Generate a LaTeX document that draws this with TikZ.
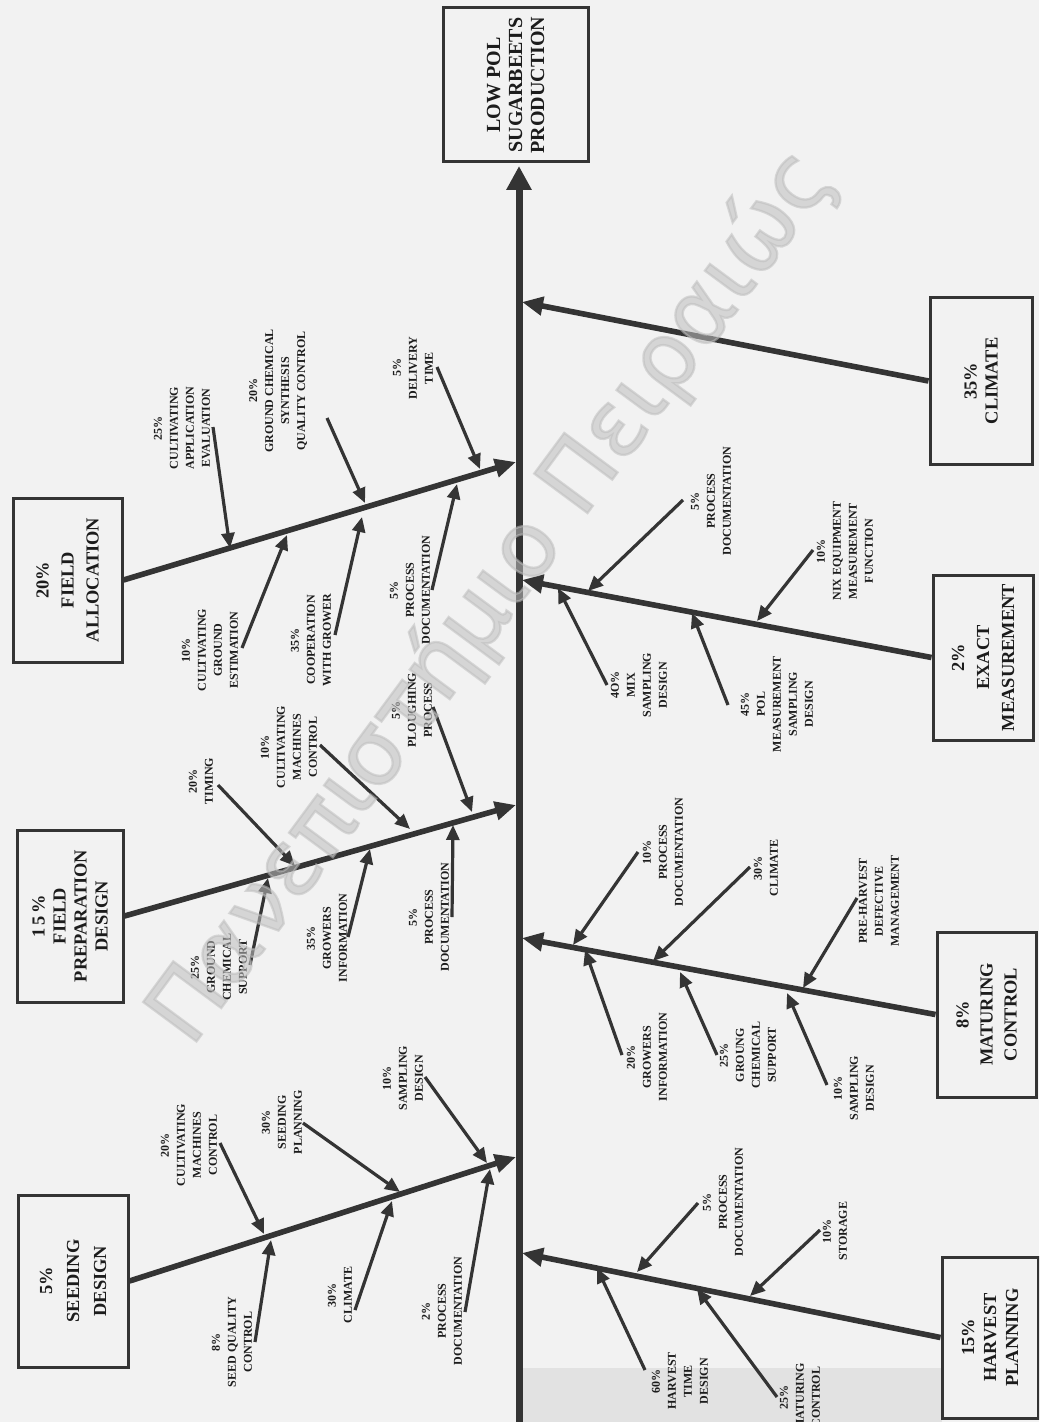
\documentclass[tikz,border=0pt]{standalone}
\usepackage{fontspec}
\setmainfont{Liberation Serif}
\newfontfamily\wmfont[FakeBold=2.5]{DejaVu Sans}
\usetikzlibrary{arrows.meta}
\definecolor{paper}{RGB}{242,242,242}
\definecolor{ink}{RGB}{28,28,28}
\definecolor{wire}{RGB}{52,52,52}
\definecolor{wmark}{RGB}{190,190,190}
\definecolor{scanband}{RGB}{226,226,226}
\newcommand{\boxfont}[2]{\fontsize{#1}{#2}\selectfont\bfseries}

\begin{document}
\begin{tikzpicture}[x=0.5pt,y=-0.5pt,
  lab/.style={rotate=90, align=center, inner sep=0pt, text=ink,
              font=\fontsize{6}{8}\selectfont\bfseries},
  cause/.style={draw=wire, line width=1.5pt, rotate=90, align=center,
                text=ink, inner sep=0pt},
  bone/.style={draw=wire, line width=2.8pt, -{Triangle[length=10.5pt,width=9pt]}},
  rib/.style={draw=wire, line width=1.6pt, -{Triangle[length=7.5pt,width=6.5pt]}},
  spine/.style={draw=wire, line width=3.5pt, -{Triangle[length=12pt,width=12pt]}}
]
\useasboundingbox (0,0) rectangle (1039,1422);
\clip (0,0) rectangle (1039,1422);
\fill[paper] (0,0) rectangle (1039,1422);
\fill[scanband] (522,1368) rectangle (942,1422);

% effect and spine
\node[cause, minimum width=77pt, minimum height=72.5pt, font=\boxfont{10}{11}] (eff) at (515.5,85) {LOW POL\\SUGARBEETS\\PRODUCTION};
\coordinate (spb) at (519,1440);
\coordinate (spt) at (519,166);
\draw[spine] (spb) -- (spt);

% main causes
\node[cause, minimum width=86pt, minimum height=55pt, font=\boxfont{9.2}{13.5}] (sd) at (73,1281) {5\%\\SEEDING\\DESIGN};
\node[cause, minimum width=86pt, minimum height=53pt, font=\boxfont{9.2}{10.5}] (fp) at (70,916) {1\hspace{1.5pt}5\hspace{1.5pt}\%\\FIELD\\PREPARATION\\DESIGN};
\node[cause, minimum width=82pt, minimum height=54.5pt, font=\boxfont{9.2}{12.5}] (fa) at (67.5,580) {20\%\\FIELD\\ALLOCATION};
\node[cause, minimum width=83pt, minimum height=51pt, font=\boxfont{9.2}{10.5}] (cl) at (981,381) {35\%\\CLIMATE};
\node[cause, minimum width=82.5pt, minimum height=50pt, font=\boxfont{9.2}{12.5}] (em) at (983,657.5) {2\%\\EXACT\\MEASUREMENT};
\node[cause, minimum width=82.5pt, minimum height=49.5pt, font=\boxfont{9.2}{12}] (mc) at (986.5,1014.5) {8\%\\MATURING\\CONTROL};
\node[cause, minimum width=80.5pt, minimum height=48pt, font=\boxfont{9.2}{11}] (hp) at (990,1337.5) {15\%\\HARVEST\\PLANNING};

\coordinate (sdt) at (516,1157);
\coordinate (fpt) at (516,805);
\coordinate (fat) at (516,462);
\coordinate (clt) at (522,302);
\coordinate (emt) at (522,580);
\coordinate (mct) at (522,938);
\coordinate (hpt) at (522,1253);
\draw[bone] (sd.south) -- (sdt);
\draw[bone] (fp.south) -- (fpt);
\draw[bone] (fa.south) -- (fat);
\draw[bone] (cl.north) -- (clt);
\draw[bone] (em.north) -- (emt);
\draw[bone] (mc.north) -- (mct);
\draw[bone] (hp.north) -- (hpt);

% seeding design
\node[lab] (s1) at (189,1145) {20\%\\CULTIVATING\\MACHINES\\CONTROL};
\node[lab] (s2) at (282,1122) {30\%\\SEEDING\\PLANNING};
\node[lab] (s3) at (403,1078) {10\%\\SAMPLING\\DESIGN};
\node[lab] (s4) at (232,1342) {8\%\\SEED QUALITY\\CONTROL};
\node[lab] (s5) at (340,1295) {30\%\\CLIMATE};
\node[lab] (s6) at (442,1311) {2\%\\PROCESS\\DOCUMENTATION};
\coordinate (s1a) at (220,1143); \coordinate (s1b) at (264,1234);
\coordinate (s2a) at (303,1123); \coordinate (s2b) at (400,1192);
\coordinate (s3a) at (425,1077); \coordinate (s3b) at (487,1163);
\coordinate (s4a) at (255,1342); \coordinate (s4b) at (271,1240);
\coordinate (s5a) at (355,1310); \coordinate (s5b) at (392,1201);
\coordinate (s6a) at (465,1312); \coordinate (s6b) at (490,1169);
\foreach \r in {s1,s2,s3,s4,s5,s6} \draw[rib] (\r a) -- (\r b);

% field preparation design
\node[lab] (p1) at (201,781) {20\%\\TIMING};
\node[lab] (p2) at (289,747) {10\%\\CULTIVATING\\MACHINES\\CONTROL};
\node[lab] (p3) at (412,710) {5\%\\PLOUGHING\\PROCESS};
\node[lab] (p4) at (219,967) {25\%\\GROUND\\CHEMICAL\\SUPPORT};
\node[lab] (p5) at (327,938) {35\%\\GROWERS\\INFORMATION};
\node[lab] (p6) at (429,917) {5\%\\PROCESS\\DOCUMENTATION};
\coordinate (p1a) at (218,785); \coordinate (p1b) at (295,866);
\coordinate (p2a) at (320,745); \coordinate (p2b) at (410,829);
\coordinate (p3a) at (433,707); \coordinate (p3b) at (472,812);
\coordinate (p4a) at (250,965); \coordinate (p4b) at (268,878);
\coordinate (p5a) at (348,937); \coordinate (p5b) at (370,849);
\coordinate (p6a) at (452,917); \coordinate (p6b) at (453,825);
\foreach \r in {p1,p2,p3,p4,p5,p6} \draw[rib] (\r a) -- (\r b);

% field allocation
\node[lab] (a1) at (182,428) {25\%\\CULTIVATING\\APPLICATION\\EVALUATION};
\node[lab] (a2) at (278,391) {20\%\\GROUND CHEMICAL\\SYNTHESIS\\QUALITY CONTROL};
\node[lab] (a3) at (413,368) {5\%\\DELIVERY\\TIME};
\node[lab] (a4) at (210,650) {10\%\\CULTIVATING\\GROUND\\ESTIMATION};
\node[lab] (a5) at (311,640) {35\%\\COOPERATION\\WITH GROWER};
\node[lab] (a6) at (410,590) {5\%\\PROCESS\\DOCUMENTATION};
\coordinate (a1a) at (213,427); \coordinate (a1b) at (230,548);
\coordinate (a2a) at (327,418); \coordinate (a2b) at (365,503);
\coordinate (a3a) at (437,367); \coordinate (a3b) at (480,469);
\coordinate (a4a) at (242,648); \coordinate (a4b) at (287,535);
\coordinate (a5a) at (335,635); \coordinate (a5b) at (362,517);
\coordinate (a6a) at (432,590); \coordinate (a6b) at (457,484);
\foreach \r in {a1,a2,a3,a4,a5,a6} \draw[rib] (\r a) -- (\r b);

% exact measurement
\node[lab] (e1) at (711,501) {5\%\\PROCESS\\DOCUMENTATION};
\node[lab] (e2) at (845,551) {10\%\\NIX EQUIPMENT\\MEASUREMENT\\FUNCTION};
\node[lab] (e3) at (639,685) {4O\%\\MIX\\SAMPLING\\DESIGN};
\node[lab] (e4) at (777,704) {45\%\\POL\\MEASUREMENT\\SAMPLING\\DESIGN};
\coordinate (e1a) at (683,500); \coordinate (e1b) at (588,591);
\coordinate (e2a) at (813,550); \coordinate (e2b) at (757,621);
\coordinate (e3a) at (607,685); \coordinate (e3b) at (558,588);
\coordinate (e4a) at (728,705); \coordinate (e4b) at (692,613);
\foreach \r in {e1,e2,e3,e4} \draw[rib] (\r a) -- (\r b);

% maturing control
\node[lab] (m1) at (663,852) {10\%\\PROCESS\\DOCUMENTATION};
\node[lab] (m2) at (766,868) {30\%\\CLIMATE};
\node[lab] (m3) at (879,901) {PRE-HARVEST\\DEFECTIVE\\MANAGEMENT};
\node[lab] (m4) at (647,1057) {20\%\\GROWERS\\INFORMATION};
\node[lab] (m5) at (748,1055) {25\%\\GROUNG\\CHEMICAL\\SUPPORT};
\node[lab] (m6) at (854,1088) {10\%\\SAMPLING\\DESIGN};
\coordinate (m1a) at (638,852); \coordinate (m1b) at (573,945);
\coordinate (m2a) at (750,867); \coordinate (m2b) at (653,961);
\coordinate (m3a) at (857,898); \coordinate (m3b) at (803,988);
\coordinate (m4a) at (622,1055); \coordinate (m4b) at (585,950);
\coordinate (m5a) at (717,1055); \coordinate (m5b) at (680,972);
\coordinate (m6a) at (827,1085); \coordinate (m6b) at (787,993);
\foreach \r in {m1,m2,m3,m4,m5,m6} \draw[rib] (\r a) -- (\r b);

% harvest planning
\node[lab] (h1) at (723,1202) {5\%\\PROCESS\\DOCUMENTATION};
\node[lab] (h2) at (835,1231) {10\%\\STORAGE};
\node[lab] (h3) at (680,1381) {60\%\\HARVEST\\TIME\\DESIGN};
\node[lab] (h4) at (800,1397) {25\%\\MATURING\\CONTROL};
\coordinate (h1a) at (698,1203); \coordinate (h1b) at (637,1272);
\coordinate (h2a) at (820,1230); \coordinate (h2b) at (750,1296);
\coordinate (h3a) at (645,1370); \coordinate (h3b) at (597,1268);
\coordinate (h4a) at (777,1397); \coordinate (h4b) at (697,1289);
\foreach \r in {h1,h2,h3,h4} \draw[rib] (\r a) -- (\r b);

% translucent stamp laid over the drawing
\node[rotate=53.5, text=wmark, text opacity=0.55, font=\wmfont\fontsize{45.5}{45.5}\selectfont] (wm) at (492,597) {Πανεπιστήμιο Πειραιώς};
\end{tikzpicture}
\end{document}
